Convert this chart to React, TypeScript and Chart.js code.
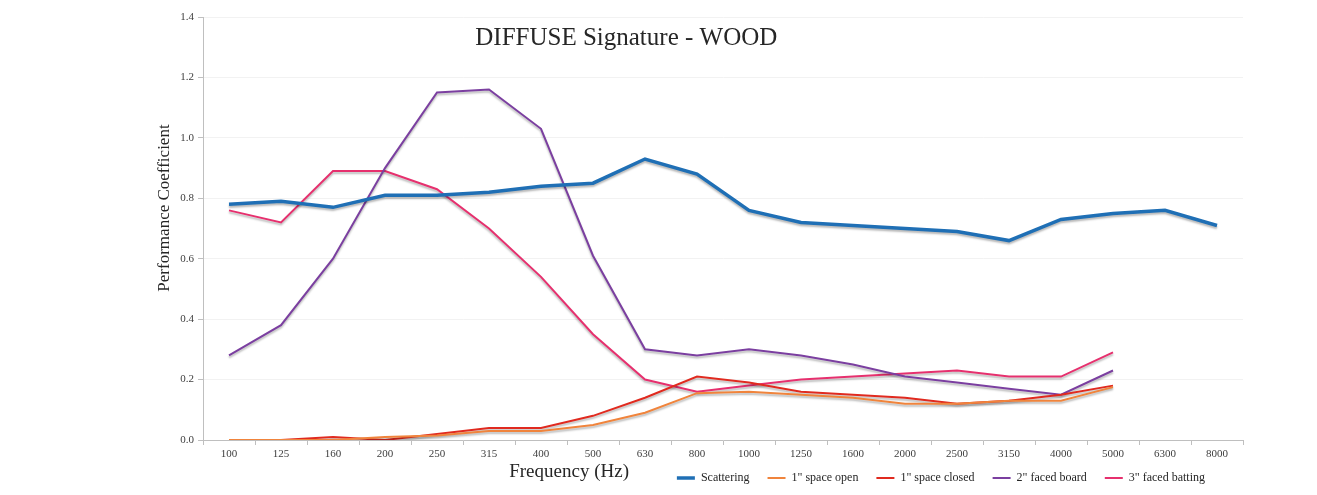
import { useEffect, useRef } from 'react'
import { Chart, registerables } from 'chart.js'

Chart.register(...registerables)

const frequencies = ['100', '125', '160', '200', '250', '315', '400', '500', '630', '800', '1000', '1250', '1600', '2000', '2500', '3150', '4000', '5000', '6300', '8000']

const scattering = [0.78, 0.79, 0.77, 0.81, 0.81, 0.82, 0.84, 0.85, 0.93, 0.88, 0.76, 0.72, 0.71, 0.70, 0.69, 0.66, 0.73, 0.75, 0.76, 0.71]
const spaceOpen = [0, 0, 0, 0.01, 0.015, 0.03, 0.03, 0.05, 0.09, 0.155, 0.16, 0.15, 0.14, 0.12, 0.12, 0.13, 0.13, 0.175, null, null]
const spaceClosed = [0, 0, 0.01, 0, 0.02, 0.04, 0.04, 0.08, 0.14, 0.21, 0.19, 0.16, 0.15, 0.14, 0.12, 0.13, 0.15, 0.18, null, null]
const facedBoard = [0.28, 0.38, 0.60, 0.90, 1.15, 1.16, 1.03, 0.61, 0.30, 0.28, 0.30, 0.28, 0.25, 0.21, 0.19, 0.17, 0.15, 0.23, null, null]
const facedBatting = [0.76, 0.72, 0.89, 0.89, 0.83, 0.70, 0.54, 0.35, 0.20, 0.16, 0.18, 0.20, 0.21, 0.22, 0.23, 0.21, 0.21, 0.29, null, null]

const yTicks = [0, 0.2, 0.4, 0.6, 0.8, 1.0, 1.2, 1.4]

const SERIF = '"Liberation Serif", "DejaVu Serif", serif'

// shadow under each line, and a few free-standing texts
const extras = {
  id: 'extras',
  beforeDatasetDraw(chart: any) {
    const ctx = chart.ctx
    ctx.save()
    ctx.shadowColor = 'rgba(0,0,0,0.28)'
    ctx.shadowBlur = 2
    ctx.shadowOffsetY = 2
  },
  afterDatasetDraw(chart: any) {
    chart.ctx.restore()
  },
  afterLayout(chart: any) {
    const lg = chart.legend
    if (!lg) return
    lg.right = chart.chartArea.right - 20
    const h = lg.bottom - lg.top
    lg.top = chart.chartArea.bottom + 14
    lg.bottom = lg.top + h
  },
  afterDraw(chart: any) {
    const { ctx, chartArea: a } = chart
    const w = a.right - a.left
    ctx.save()
    ctx.fillStyle = '#262626'
    ctx.textAlign = 'center'
    ctx.textBaseline = 'middle'
    ctx.font = `25px ${SERIF}`
    ctx.fillText('DIFFUSE Signature - WOOD', a.left + w * 0.407, a.top + 21)
    ctx.font = `19px ${SERIF}`
    ctx.fillText('Frequency (Hz)', a.left + w * 0.352, a.bottom + 32)
    ctx.translate(165, 208)
    ctx.rotate(-Math.PI / 2)
    ctx.font = `17px ${SERIF}`
    ctx.fillText('Performance Coefficient', 0, 0)
    ctx.restore()
  }
}

export default function App() {
  const ref = useRef<HTMLCanvasElement>(null)
  useEffect(() => {
    document.body.style.margin = '0'
    if (!ref.current) return
    const line = (label: string, data: any[], color: string, width: number) => ({
      label, data, borderColor: color, backgroundColor: color, borderWidth: width,
      pointRadius: 0, tension: 0, spanGaps: false
    })
    const chart = new Chart(ref.current, {
      type: 'line',
      data: {
        labels: frequencies,
        datasets: [
          line('Scattering', scattering, '#1f6fb5', 3.5),
          line('1" space open', spaceOpen, '#f0843c', 2),
          line('1" space closed', spaceClosed, '#e02a1f', 2),
          line('2" faced board', facedBoard, '#7b3fa0', 2),
          line('3" faced batting', facedBatting, '#e6306e', 2)
        ]
      },
      options: {
        animation: false,
        responsive: false,
        layout: { padding: { left: 0, right: 74, top: 17, bottom: 1 } },
        plugins: {
          tooltip: { enabled: false },
          legend: {
            position: 'bottom',
            align: 'end',
            maxHeight: 32,
            labels: {
              usePointStyle: true,
              pointStyle: 'line',
              pointStyleWidth: 18,
              padding: 18,
              color: '#262626',
              font: { family: SERIF, size: 12 }
            }
          }
        },
        scales: {
          x: {
            offset: true,
            grid: { offset: true, drawOnChartArea: false, drawTicks: true, tickLength: 5, tickColor: '#bfbfbf' },
            border: { color: '#bfbfbf' },
            ticks: { color: '#404040', padding: 3, maxRotation: 0, autoSkip: false, font: { family: SERIF, size: 11 } },
            afterFit: (s: any) => { s.height = 22 }
          },
          y: {
            min: 0,
            max: 1.4,
            afterBuildTicks: (s: any) => { s.ticks = yTicks.map(v => ({ value: v })) },
            grid: { color: '#f2f2f2', tickColor: '#bfbfbf', tickLength: 5 },
            border: { color: '#bfbfbf' },
            ticks: { color: '#404040', padding: 4, font: { family: SERIF, size: 11 }, callback: (v: any) => Number(v).toFixed(1) },
            afterFit: (s: any) => { s.width = 203 }
          }
        }
      },
      plugins: [extras]
    })
    return () => chart.destroy()
  }, [])
  return <canvas ref={ref} width={1317} height={495} />
}
